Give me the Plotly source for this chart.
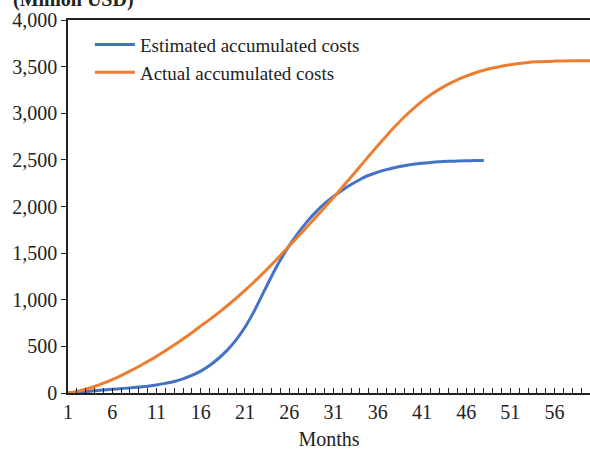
import plotly.graph_objects as go

months_est = list(range(1, 49))
estimated = [0, 7, 15, 23, 31, 39, 47, 55, 64, 72, 86, 103, 123, 152, 188, 235,
             295, 370, 460, 570, 705, 870, 1060, 1250, 1425, 1580, 1715, 1835,
             1940, 2030, 2108, 2175, 2235, 2290, 2335, 2368, 2395, 2418, 2437,
             2452, 2464, 2473, 2480, 2485, 2489, 2491, 2492, 2493]

months_act = list(range(1, 61))
actual = [0, 16, 40, 70, 105, 144, 187, 234, 284, 337, 393, 452, 514, 579, 647,
          717, 787, 860, 936, 1016, 1100, 1188, 1280, 1376, 1475, 1576, 1678,
          1781, 1885, 1990, 2097, 2206, 2317, 2429, 2541, 2652, 2760, 2863,
          2960, 3048, 3128, 3198, 3259, 3312, 3358, 3398, 3432, 3461, 3485,
          3505, 3521, 3534, 3544, 3551, 3556, 3559, 3561, 3562, 3562, 3562]

y_ticks = [0, 500, 1000, 1500, 2000, 2500, 3000, 3500, 4000]
x_ticks = [1, 6, 11, 16, 21, 26, 31, 36, 41, 46, 51, 56]

FONT = "Liberation Serif"
INK = "#222222"

fig = go.Figure()
fig.add_trace(go.Scatter(x=months_est, y=estimated, mode="lines",
                         name="Estimated accumulated costs",
                         line=dict(color="#4472C4", width=3, shape="spline", smoothing=1)))
fig.add_trace(go.Scatter(x=months_act, y=actual, mode="lines",
                         name="Actual accumulated costs",
                         line=dict(color="#ED7D31", width=3, shape="spline", smoothing=1)))

fig.update_layout(
    width=590, height=450,
    margin=dict(l=68, r=0, t=20, b=57),
    paper_bgcolor="white", plot_bgcolor="white",
    font=dict(family=FONT, size=20, color=INK),
    showlegend=True,
    legend=dict(x=0.042, y=0.985, xanchor="left", yanchor="top",
                bgcolor="rgba(0,0,0,0)", font=dict(size=19, family=FONT, color=INK),
                tracegroupgap=0, itemwidth=40),
    xaxis=dict(
        range=[1, 60], tickmode="array", tickvals=x_ticks,
        ticktext=[str(v) for v in x_ticks],
        ticks="inside", ticklen=5, tickcolor=INK, tickwidth=1,
        minor=dict(dtick=1, tick0=1, ticks="inside", ticklen=5,
                   tickcolor=INK, tickwidth=1, showgrid=False),
        showline=True, linecolor=INK, linewidth=1.5, mirror=True,
        showgrid=False, zeroline=False, automargin=False,
        title=dict(text="Months", font=dict(size=20, family=FONT, color=INK), standoff=10),
        tickfont=dict(size=20, family=FONT, color=INK),
    ),
    yaxis=dict(
        range=[0, 4000], tickmode="array", tickvals=y_ticks,
        ticktext=[f"{v:,}" for v in y_ticks],
        ticks="outside", ticklen=5, tickcolor=INK, tickwidth=1,
        showline=True, linecolor=INK, linewidth=1.5,
        showgrid=False, zeroline=False, automargin=False,
        tickfont=dict(size=20, family=FONT, color=INK),
    ),
)

fig.add_annotation(text="<b>(Million USD)</b>", xref="paper", yref="paper",
                   x=-0.109, y=1.056, xanchor="left", yanchor="middle",
                   showarrow=False, font=dict(size=20, family=FONT, color=INK))

fig.write_html("out.html",
               config={"displayModeBar": False},
               post_script="document.body.style.margin='0';document.body.style.overflow='hidden';")
